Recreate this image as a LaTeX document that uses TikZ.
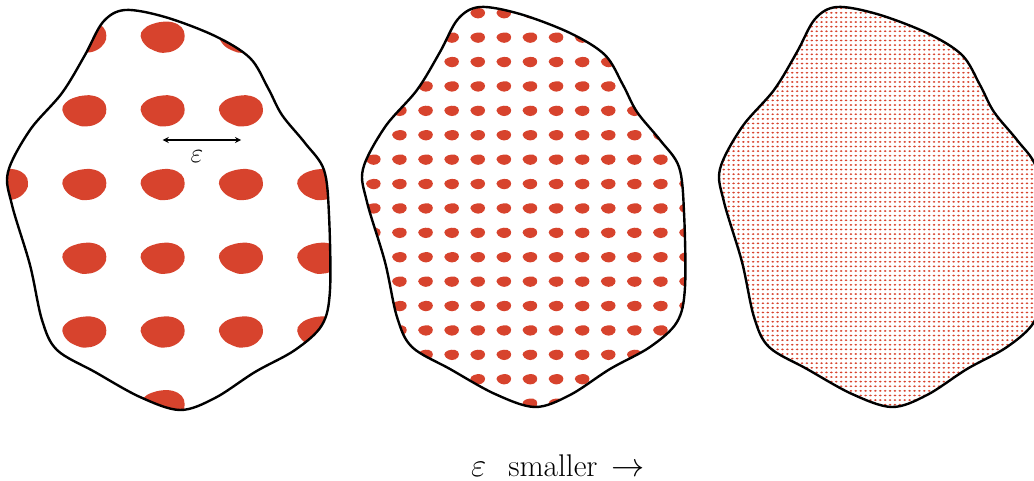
\documentclass[tikz,border=0pt]{standalone}
\usepackage{amsmath}
\usepackage{amssymb}
\usetikzlibrary{arrows}
\definecolor{inclred}{RGB}{215,67,45}
\tikzstyle{arrow} = [line width=1pt,<->,>=stealth]
\tikzstyle{outline} = [draw,line width=1.8pt,black]
\tikzset{inclusion/.pic={\fill[inclred] plot[smooth cycle,tension=0.7] coordinates {(-22,1) (-17,-8) (-8,-13.5) (1,-15.5) (12,-13) (20,-6) (22,2) (19,10) (10,15) (0,15.5) (-11,13) (-19,8)};}}
\newcommand{\blobpath}[1]{\path[#1] plot[smooth cycle,tension=0.55] coordinates {(125,10) (165,17) (215,36) (250,58) (268,88) (282,115) (305,143) (324,170) (329,215) (330,290) (322,325) (295,350) (255,372) (215,398) (180,410) (140,397) (95,372) (57,350) (42,320) (30,265) (12,205) (8,172) (30,130) (62,93) (85,55) (103,22)};}

\begin{document}
\begin{tikzpicture}[x=0.75pt,y=0.75pt,yscale=-1,xscale=1]
\useasboundingbox (0,0) rectangle (1034,481);

%Shape: Blob, coarse inclusions
\begin{scope}
\blobpath{clip}
\foreach \i in {0,...,4}
  \foreach \j in {0,...,5}
    \pic at (6+78.3*\i,37.3+73.7*\j) {inclusion};
\end{scope}
\blobpath{outline}

%Shape: Blob, finer inclusions
\begin{scope}[shift={(355,-3)}]
\blobpath{clip}
\foreach \i in {-1,...,12}
  \foreach \j in {0,...,16}
    \pic[scale=0.3333] at (18.3+26.1*\i,16.3+24.4*\j) {inclusion};
\end{scope}
\begin{scope}[shift={(355,-3)}]
\blobpath{outline}
\end{scope}

%Shape: Blob, finest inclusions
\begin{scope}[shift={(712,-3)}]
\blobpath{clip}
\foreach \i in {0,...,66}
  \foreach \j in {0,...,88}
    \fill[inclred] (2+4.89*\i,2+4.61*\j) ellipse [x radius=1.4,y radius=0.95];
\end{scope}
\begin{scope}[shift={(712,-3)}]
\blobpath{outline}
\end{scope}

%Straight Lines: period
\coordinate (epsleft) at (162.7,140);
\coordinate (epsright) at (241,140);
\draw[arrow] (epsleft) -- (epsright);

% Text Node
\node[font=\fontsize{20}{24}\selectfont] (epslabel) at (197,157) {$\varepsilon$};
% Text Node
\node[anchor=base,font=\fontsize{23.5}{28}\selectfont] (caption) at (558,476) {$\varepsilon$\hspace{0.7em}smaller\hspace{0.45em}$\rightarrow$};

\end{tikzpicture}
\end{document}
